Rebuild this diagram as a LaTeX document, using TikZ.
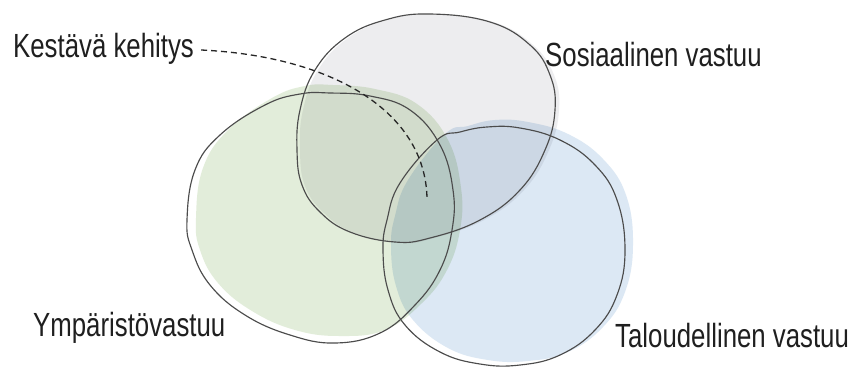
\documentclass[tikz,border=0pt]{standalone}
\usepackage{fontspec}
\setmainfont{Liberation Sans}[FakeStretch=0.77]
\begin{document}
\begin{tikzpicture}[x=1pt,y=-1pt,
  lbl/.style={anchor=base west,inner sep=0pt,font=\fontsize{33.5}{36}\selectfont,text=black!88},
  outline/.style={draw=black!70,line width=1.15pt},
  grayfill/.style={fill={rgb,255:red,237;green,237;blue,239}},
  greenfill/.style={fill={rgb,255:red,226;green,237;blue,218}},
  bluefill/.style={fill={rgb,255:red,220;green,232;blue,244}},
  leader/.style={draw=black!85,line width=1.3pt,dash pattern=on 6pt off 4pt}]
\useasboundingbox (0,0) rectangle (853,367);
\fill[white] (0,0) rectangle (853,367);
% fills
\begin{scope}[blend mode=multiply]
\path[grayfill] plot[smooth cycle,tension=0.7] coordinates {(433,14) (493,22) (533,45) (554,75) (559,110) (549,150) (524,190) (484,220) (434,238) (399,243) (354,233) (324,213) (305,186) (300,150) (303,110) (318,70) (348,38) (388,20)};
\path[greenfill] plot[smooth cycle,tension=0.7] coordinates {(333,85) (375,89) (417,104) (448,140) (461,188) (460,230) (447,270) (422,303) (385,330) (340,336) (295,330) (252,311) (218,283) (200,250) (196,218) (203,168) (228,130) (272,98) (305,86)};
\path[bluefill] plot[smooth cycle,tension=0.7] coordinates {(468,126) (495,120) (528,122) (568,134) (603,159) (626,195) (633,245) (625,292) (603,327) (568,352) (528,361) (488,360) (448,348) (413,320) (396,286) (391,246) (395,216) (408,180) (445,134)};
\end{scope}
% outlines
\draw[outline] plot[smooth cycle,tension=0.7] coordinates {(430,14) (490,22) (530,45) (550,75) (555,110) (545,150) (520,190) (480,220) (430,238) (395,242) (350,232) (320,212) (302,185) (297,150) (300,110) (315,70) (345,38) (385,20)};
\draw[outline] plot[smooth cycle,tension=0.7] coordinates {(330,93) (370,96) (410,110) (440,145) (453,190) (452,230) (440,270) (415,305) (380,333) (335,343) (290,335) (245,315) (210,285) (192,250) (187,220) (195,170) (220,135) (265,105) (300,94)};
\draw[outline] plot[smooth cycle,tension=0.7] coordinates {(460,132) (487,127) (520,128) (560,140) (595,165) (617,200) (625,250) (617,295) (595,330) (560,355) (520,365) (480,364) (440,352) (405,325) (388,290) (383,250) (387,220) (400,183) (437,140)};
% labels
\node[lbl] (kk) at (13,57) {Kestävä kehitys};
\node[lbl] (sv) at (545,66) {Sosiaalinen vastuu};
\node[lbl] (yv) at (33,336) {Ympäristövastuu};
\node[lbl] (tv) at (615,347) {Taloudellinen vastuu};
\coordinate (kkend) at (427,198);
\draw[leader] ([xshift=7pt,yshift=7pt]kk.base east) .. controls (330,56) and (425,110) .. (kkend);
\end{tikzpicture}
\end{document}
